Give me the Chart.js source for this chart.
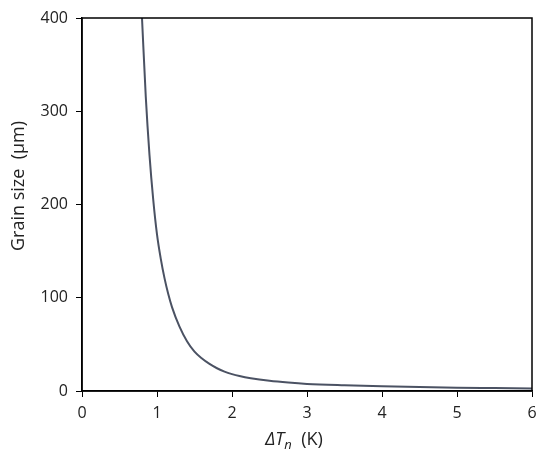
<!DOCTYPE html>
<html>
<head>
<meta charset="utf-8">
<script src="https://cdn.jsdelivr.net/npm/chart.js@4"></script>
<style>
  html, body { margin: 0; padding: 0; background: #fff; }
  #wrap { width: 550px; height: 457px; }
</style>
</head>
<body>
<div id="wrap"><canvas id="chart" width="550" height="457"></canvas></div>
<script>
// undercooling (K) and grain size (um)
const deltaT = [0.80, 0.85, 0.90, 0.95, 1.00, 1.05, 1.10, 1.15, 1.20, 1.30, 1.40, 1.50, 1.60, 1.70, 1.80, 1.90, 2.00, 2.10, 2.25, 2.50, 2.75, 3.00, 3.50, 4.00, 4.50, 5.00, 5.50, 6.00];
const grainSize = [400, 316, 253, 205, 168, 142, 121, 104, 90, 69, 53.4, 42.2, 34.8, 29, 24.4, 20.8, 18.1, 16.0, 13.65, 10.9, 9.0, 7.6, 6.1, 5.0, 4.2, 3.6, 3.2, 2.8];
const xTicks = [0, 1, 2, 3, 4, 5, 6];
const yTicks = [0, 100, 200, 300, 400];

const FONT = '"Open Sans", "DejaVu Sans", sans-serif';
const ctx = document.getElementById('chart');

// frame round the plot, axis titles (x title has italic + subscript)
const framePlugin = {
  id: 'frame',
  afterDraw(chart) {
    const { ctx, chartArea: a } = chart;
    ctx.save();
    ctx.strokeStyle = '#000';
    ctx.lineWidth = 1.5;
    ctx.strokeRect(a.left, a.top, a.right - a.left, a.bottom - a.top);

    ctx.fillStyle = '#222';
    ctx.textBaseline = 'alphabetic';
    const y = 445;
    ctx.font = 'italic 18px ' + FONT;
    const w1 = ctx.measureText('ΔT').width;
    ctx.font = 'italic 13px ' + FONT;
    const w2 = ctx.measureText('n').width;
    ctx.font = '18px ' + FONT;
    const w3 = ctx.measureText('  (K)').width;
    let x = 294 - (w1 + w2 + w3) / 2;
    ctx.font = 'italic 18px ' + FONT;
    ctx.fillText('ΔT', x, y);
    x += w1;
    ctx.font = 'italic 13px ' + FONT;
    ctx.fillText('n', x, y + 4);
    x += w2;
    ctx.font = '18px ' + FONT;
    ctx.fillText('  (K)', x, y);

    ctx.translate(19, 186);
    ctx.rotate(-Math.PI / 2);
    ctx.textAlign = 'center';
    ctx.textBaseline = 'middle';
    ctx.font = '18px ' + FONT;
    ctx.fillText('Grain size  (μm)', 0, 0);
    ctx.restore();
  }
};

new Chart(ctx, {
  type: 'scatter',
  data: {
    datasets: [{
      label: 'Grain size',
      data: deltaT.map((t, i) => ({ x: t, y: grainSize[i] })),
      showLine: true,
      borderColor: '#4b5263',
      borderWidth: 2,
      pointRadius: 0,
      cubicInterpolationMode: 'monotone',
      clip: 2
    }]
  },
  options: {
    responsive: false,
    animation: false,
    layout: { padding: { top: 18, right: 18, left: 0, bottom: 0 } },
    plugins: { legend: { display: false }, tooltip: { enabled: false } },
    scales: {
      x: {
        type: 'linear',
        min: 0, max: 6,
        afterBuildTicks: (s) => { s.ticks = xTicks.map(v => ({ value: v })); },
        afterFit: (s) => { s.height = 66; },
        grid: { drawOnChartArea: false, drawTicks: true, tickLength: 6, color: '#000', lineWidth: 1 },
        border: { display: true, color: '#000', width: 1.5 },
        ticks: { color: '#222', font: { family: FONT, size: 16 }, padding: 7, maxRotation: 0 }
      },
      y: {
        type: 'linear',
        min: 0, max: 400,
        afterBuildTicks: (s) => { s.ticks = yTicks.map(v => ({ value: v })); },
        afterFit: (s) => { s.width = 82; },
        grid: { drawOnChartArea: false, drawTicks: true, tickLength: 6, color: '#000', lineWidth: 1 },
        border: { display: true, color: '#000', width: 1.5 },
        ticks: { color: '#222', font: { family: FONT, size: 16 }, padding: 8 }
      }
    }
  },
  plugins: [framePlugin]
});
</script>
</body>
</html>
